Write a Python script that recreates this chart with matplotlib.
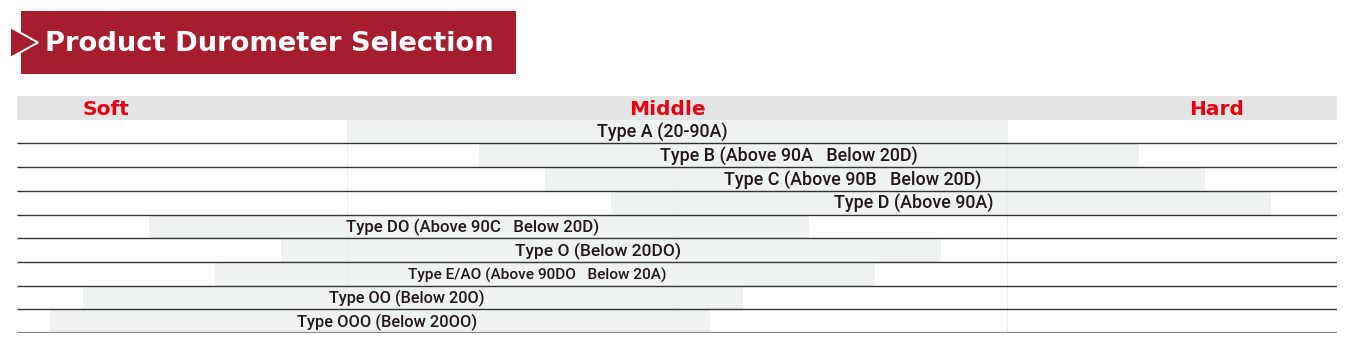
import matplotlib.pyplot as plt
from matplotlib.patches import Rectangle, Polygon

# durometer types and their ranges on the 0-20 hardness scale (soft -> hard)
types = ['Type A (20-90A)',
         'Type B (Above 90A   Below 20D)',
         'Type C (Above 90B   Below 20D)',
         'Type D (Above 90A)',
         'Type DO (Above 90C   Below 20D)',
         'Type O (Below 20DO)',
         'Type E/AO (Above 90DO   Below 20A)',
         'Type OO (Below 20O)',
         'Type OOO (Below 20OO)']
range_start = [5, 7, 8, 9, 2, 4, 3, 1, 0.5]
range_width = [10, 10, 10, 10, 10, 10, 10, 10, 10]
zones = ['Soft', 'Middle', 'Hard']

W, H = 1358, 346
red = '#A61D2D'
text_dark = '#231815'

# label nudges away from the bar centre and label font sizes (layout only)
label_shift = [-0.23, -0.3, -0.33, -0.42, -0.09, -0.2, -0.11, -0.09, 0.1]
label_size = [12.9, 12.9, 12.9, 12.9, 12.1, 12.5, 11.1, 11.7, 11.8]

fig = plt.figure(figsize=(W / 100, H / 100), dpi=100)

# banner in pixel coordinates
bg = fig.add_axes([0, 0, 1, 1])
bg.set_xlim(0, W)
bg.set_ylim(H, 0)
bg.axis('off')
bg.add_patch(Rectangle((21, 11), 495, 63, color=red, lw=0))
bg.add_patch(Polygon([(10, 27), (38, 42.5), (10, 58)], closed=True,
                     facecolor=red, edgecolor='white', lw=1.4))
bg.text(45, 44, 'Product Durometer Selection', color='white', fontsize=19.7,
        fontweight='bold', va='center', ha='left')

# table
ax = fig.add_axes([17 / W, (H - 333) / H, 1320 / W, 237 / H])
ax.set_xlim(0, 20)
ax.set_ylim(10, 0)
ax.axis('off')

ax.add_patch(Rectangle((0, 0), 20, 1, color='#E3E4E4', lw=0))
for x, z in zip([1.35, 9.85, 18.18], zones):
    ax.text(x, 0.55, z, color='#E60012', fontsize=14.5, fontweight='bold',
            ha='center', va='center')

rows = [i + 1.5 for i in range(len(types))]
ax.barh(rows, range_width, left=range_start, height=1.0, color='#EFF2F3', lw=0)

for c in [5, 10, 15]:
    ax.plot([c, c], [1, 10], color='#EAECEC', lw=0.6)

for y, lab, s, w, dx, fs in zip(rows, types, range_start, range_width,
                                label_shift, label_size):
    ax.text(s + w / 2 + dx, y + 0.05, lab, color=text_dark, fontsize=fs,
            ha='center', va='center', family='Roboto', fontweight='medium')

for i in range(len(types)):
    y = i + 2
    last = i == len(types) - 1
    ax.plot([0, 20], [y, y], color='#8A8A8A' if last else '#333333',
            lw=1.6 if last else 1.0, solid_capstyle='butt')

fig.savefig('out.png', dpi=100)
